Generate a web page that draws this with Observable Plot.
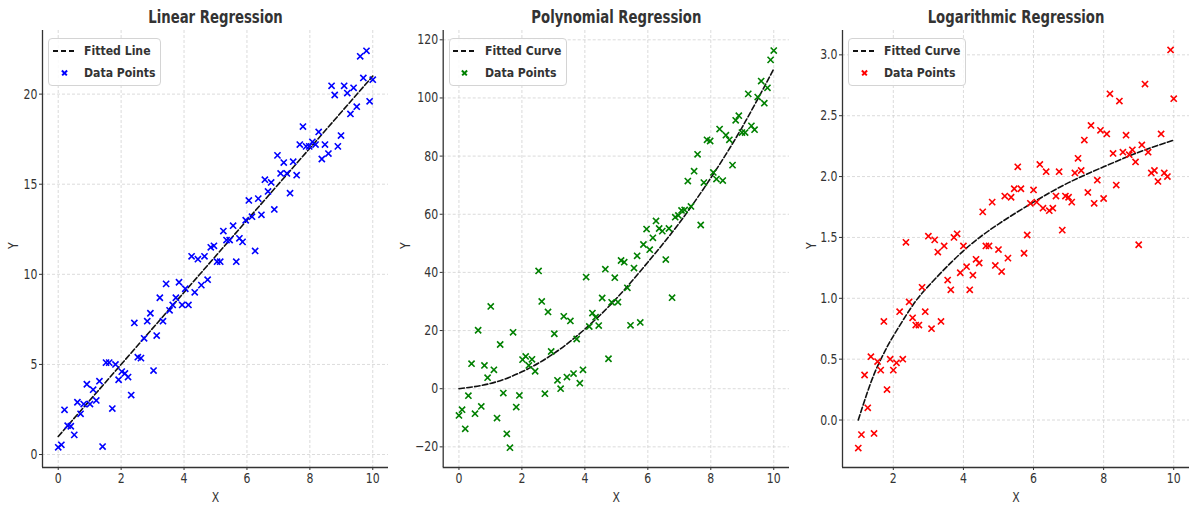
<!DOCTYPE html>
<html><head><meta charset="utf-8">
<script src="https://cdn.jsdelivr.net/npm/d3@7"></script>
<script src="https://cdn.jsdelivr.net/npm/@observablehq/plot@0.6"></script>
<style>
body{margin:0;background:#fff;}
#wrap{position:relative;width:1192px;height:505px;overflow:hidden;font-family:"DejaVu Sans",sans-serif;background:#fff;}
.panel{position:absolute;top:0;}
.panel svg{overflow:visible;}
.legend{position:absolute;top:37.7px;height:48.3px;border:1px solid #d4d4d4;border-radius:4px;background:rgba(255,255,255,0.85);box-sizing:border-box;}
.dash{position:absolute;height:1.6px;background:repeating-linear-gradient(to right,#111 0 5.5px,transparent 5.5px 8px);}
.lt{position:absolute;left:35px;transform:translateY(-50%) scaleX(0.91);transform-origin:left center;font:bold 12px "DejaVu Sans",sans-serif;color:#333;white-space:nowrap;line-height:1;}
.mk{position:absolute;width:0;height:0;}
.mk::before,.mk::after{content:"";position:absolute;left:-3.5px;top:-0.8px;width:7px;height:1.6px;background:var(--c);}
.mk::before{transform:rotate(45deg);} .mk::after{transform:rotate(-45deg);}
</style>
</head><body>
<div id="wrap"></div>
<script>
// ---------- data ----------
const xs = [0,0.10,0.20,0.30,0.40,0.51,0.61,0.71,0.81,0.91,1.01,1.11,1.21,1.31,1.41,1.52,1.62,1.72,1.82,1.92,2.02,2.12,2.22,2.32,2.42,2.53,2.63,2.73,2.83,2.93,3.03,3.13,3.23,3.33,3.43,3.54,3.64,3.74,3.84,3.94,4.04,4.14,4.24,4.34,4.44,4.55,4.65,4.75,4.85,4.95,5.05,5.15,5.25,5.35,5.45,5.56,5.66,5.76,5.86,5.96,6.06,6.16,6.26,6.36,6.46,6.57,6.67,6.77,6.87,6.97,7.07,7.17,7.27,7.37,7.47,7.58,7.68,7.78,7.88,7.98,8.08,8.18,8.28,8.38,8.48,8.59,8.69,8.79,8.89,8.99,9.09,9.19,9.29,9.39,9.49,9.60,9.70,9.80,9.90,10.00];
const linY = [0.4,0.54,2.48,1.6,1.57,1.09,2.9,2.26,2.8,3.9,2.8,3.6,3.0,4.07,0.44,5.1,5.1,2.55,5.0,4.15,4.6,4.5,4.3,3.3,7.3,5.4,5.35,6.45,7.4,7.84,4.66,6.6,8.7,7.4,9.47,8.0,8.3,8.7,9.56,8.3,9.2,8.3,11.0,9.0,10.84,9.4,11.0,9.7,11.5,11.58,10.7,10.7,12.4,11.9,11.9,12.7,10.7,12.0,11.8,13.0,14.1,13.2,11.3,14.2,13.3,15.25,14.6,15.1,13.6,16.6,15.6,16.2,15.6,14.5,16.25,15.5,17.2,18.2,17.1,17.1,17.35,17.2,17.9,16.4,17.2,16.7,20.46,19.95,17.1,17.7,20.46,20.06,18.9,20.35,19.3,22.1,20.9,22.4,19.6,20.8];
const polyY = [-9.2,-7.2,-13.8,-2.4,8.6,-8.6,20.1,-6.1,8.0,3.8,28.3,6.5,-10.1,15.2,-1.5,-15.5,-20.3,19.4,-6.3,-2.3,10.0,11.1,8.0,10.1,6.0,40.5,30.0,-1.7,26.4,12.8,18.9,2.9,0,24.9,4.0,23.3,5.2,17.1,1.9,6.5,38.4,21.4,26.0,24.6,21.7,31.2,41.1,10.3,29.7,38.2,29.8,44.1,43.5,34.7,21.8,41.5,45.7,22.8,49.6,54.9,47.8,51.9,57.7,55.1,54.2,44.4,55.1,31.3,59.0,59.6,61.3,61.5,71.4,62.7,74.8,80.6,56.3,70.9,85.6,85.2,74.4,72.1,89.3,71.6,87.2,85.6,76.9,92.3,93.9,88.1,88.1,101.4,90.4,89.1,100.3,105.8,98.2,103.5,113.1,116.3];
const logX = [1.00,1.09,1.18,1.27,1.36,1.45,1.55,1.64,1.73,1.82,1.91,2.00,2.09,2.18,2.27,2.36,2.45,2.55,2.64,2.73,2.82,2.91,3.00,3.09,3.18,3.27,3.36,3.45,3.55,3.64,3.73,3.82,3.91,4.00,4.09,4.18,4.27,4.36,4.45,4.55,4.64,4.73,4.82,4.91,5.00,5.09,5.18,5.27,5.36,5.45,5.55,5.64,5.73,5.82,5.91,6.00,6.09,6.18,6.27,6.36,6.45,6.55,6.64,6.73,6.82,6.91,7.00,7.09,7.18,7.27,7.36,7.45,7.55,7.64,7.73,7.82,7.91,8.00,8.09,8.18,8.27,8.36,8.45,8.55,8.64,8.73,8.82,8.91,9.00,9.09,9.18,9.27,9.36,9.45,9.55,9.64,9.73,9.82,9.91,10.00];
const logY = [-0.23,-0.12,0.37,0.10,0.52,-0.11,0.48,0.41,0.81,0.25,0.50,0.41,0.47,0.89,0.50,1.46,0.97,0.84,0.78,0.78,1.09,0.89,1.51,0.75,1.48,1.38,0.81,1.43,1.15,1.07,1.50,1.53,1.21,1.43,1.26,1.07,1.19,1.32,1.29,1.71,1.43,1.43,1.79,1.27,1.40,1.22,1.84,1.33,1.83,1.90,2.08,1.90,1.37,1.52,1.78,1.89,1.79,2.10,1.74,2.04,1.72,1.74,1.84,2.04,1.56,1.84,1.83,1.79,2.03,2.15,2.05,2.30,1.87,2.42,1.78,1.97,2.38,1.82,2.35,2.68,2.19,1.93,2.62,2.20,2.34,2.18,2.22,2.12,1.44,2.26,2.76,2.20,2.03,2.05,1.96,2.35,2.03,2.00,3.04,2.64];

// fitted curves
const linFitX = [0, 10];
const linFitY = [1.0, 21.0];
const polyFitX = [0,1,2,3,4,5,6,7,8,9,10];
const polyFitY = [0,1.8,5.8,12,20.5,31,43.5,57,72.5,90,110];
const logFitX = [1,1.25,1.5,1.75,2,2.5,3,4,5,6,7,8,9,10];
const logFitY = [0,0.22,0.41,0.56,0.69,0.92,1.10,1.39,1.61,1.79,1.95,2.08,2.20,2.30];

const titles = ["Linear Regression", "Polynomial Regression", "Logarithmic Regression"];
const legendFit = ["Fitted Line", "Fitted Curve", "Fitted Curve"];
const legendData = "Data Points";
const colors = ["blue", "green", "red"];
const xTicksA = [0,2,4,6,8,10];
const xTicksB = [2,4,6,8,10];
const yTicks1 = [0,5,10,15,20];
const yTicks2 = [-20,0,20,40,60,80,100,120];
const yTicks3 = [0,0.5,1.0,1.5,2.0,2.5,3.0];

// ---------- drawing ----------
const wrap = document.getElementById("wrap");
const zip = (a, b) => a.map((v, i) => ({x: v, y: b[i]}));

const panels = [
  {left: 0, width: 397, ml: 42, mr: 9, xDomain: [-0.5, 10.5], yDomain: [-0.72, 23.53], xTicks: xTicksA, yTicks: yTicks1, fmt: d3.format("d"),
   data: zip(xs, linY), fit: zip(linFitX, linFitY), curve: "linear", ydx: -28.7},
  {left: 397, width: 397, ml: 45.7, mr: 5, xDomain: [-0.5, 10.5], yDomain: [-27.1, 123.2], xTicks: xTicksA, yTicks: yTicks2, fmt: d3.format("d"),
   data: zip(xs, polyY), fit: zip(polyFitX, polyFitY), curve: "natural", ydx: -37.7},
  {left: 794, width: 398, ml: 48, mr: 3, xDomain: [0.55, 10.45], yDomain: [-0.39, 3.2], xTicks: xTicksB, yTicks: yTicks3, fmt: d3.format(".1f"),
   data: zip(logX, logY), fit: zip(logFitX, logFitY), curve: "natural", ydx: -31.3}
];

const gridStyle = {stroke: "#d2d2d2", strokeOpacity: 1, strokeWidth: 0.8, strokeDasharray: "3,2"};

panels.forEach((p, k) => {
  const svg = Plot.plot({
    width: p.width, height: 505,
    marginLeft: p.ml, marginRight: p.mr, marginTop: 30, marginBottom: 38,
    style: {fontFamily: "DejaVu Sans, sans-serif", color: "#333", background: "transparent", overflow: "visible"},
    x: {domain: p.xDomain}, y: {domain: p.yDomain},
    marks: [
      Plot.gridX(p.xTicks, gridStyle),
      Plot.gridY(p.yTicks, gridStyle),
      Plot.axisX(p.xTicks, {tickSize: 3, tickPadding: 3, fontSize: 14, label: null, tickFormat: d3.format("d")}),
      Plot.axisY(p.yTicks, {tickSize: 3, tickPadding: 2, fontSize: 14, label: null, tickFormat: p.fmt}),
      Plot.ruleX([p.xDomain[0]], {stroke: "#333", strokeWidth: 1.3}),
      Plot.ruleY([p.yDomain[0]], {stroke: "#333", strokeWidth: 1.3}),
      Plot.line(p.fit, {x: "x", y: "y", stroke: "#111", strokeWidth: 1.6, strokeDasharray: "5.5,2.4", curve: p.curve}),
      Plot.dot(p.data, {x: "x", y: "y", symbol: "times", r: 2.9, stroke: colors[k], strokeWidth: 1.6}),
      Plot.text([titles[k]], {frameAnchor: "top", dy: -13, text: d => d, fontSize: 17, fontWeight: "bold", fill: "#333", lineAnchor: "middle"}),
      Plot.text(["X"], {frameAnchor: "bottom", dy: 29.7, text: d => d, fontSize: 14, fill: "#333", lineAnchor: "middle"}),
      Plot.text(["Y"], {frameAnchor: "left", dx: p.ydx, rotate: -90, text: d => d, fontSize: 14, fill: "#333", lineAnchor: "middle"})
    ]
  });
  // narrow the text horizontally, as in the reference
  svg.querySelectorAll("text").forEach(t => {
    const x = t.getAttribute("x");
    let tr = t.getAttribute("transform") || "";
    if (x != null) { tr += ` translate(${x},0)`; t.removeAttribute("x"); }
    t.setAttribute("transform", tr + " scale(0.78,1)");
  });
  const div = document.createElement("div");
  div.className = "panel";
  div.style.left = p.left + "px";
  div.appendChild(svg);
  wrap.appendChild(div);

  // legend
  const lg = document.createElement("div");
  lg.className = "legend";
  lg.style.left = (p.left + p.ml + 6) + "px";
  lg.style.width = (k === 0 ? 113 : 118) + "px";
  lg.innerHTML =
    `<div class="dash" style="left:3.5px;top:11.5px;width:21px"></div>` +
    `<div class="lt" style="top:12.3px">${legendFit[k]}</div>` +
    `<div class="mk" style="left:15px;top:34.5px;--c:${colors[k]}"></div>` +
    `<div class="lt" style="top:34px">${legendData}</div>`;
  wrap.appendChild(lg);
});
</script>
</body></html>
